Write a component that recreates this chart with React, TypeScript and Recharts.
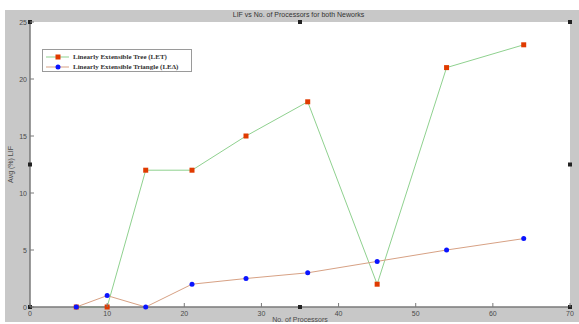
import React from "react";
import {
  LineChart,
  Line,
  XAxis,
  YAxis,
  CartesianGrid,
  Legend,
  ReferenceDot,
} from "recharts";

const PROCESSORS = [6, 10, 15, 21, 28, 36, 45, 54, 64];
const LET_VALUES = [0, 0, 12, 12, 15, 18, 2, 21, 23];
const LED_VALUES = [0, 1, 0, 2, 2.5, 3, 4, 5, 6];
const X_TICKS = [0, 10, 20, 30, 40, 50, 60, 70];
const Y_TICKS = [0, 5, 10, 15, 20, 25];
const HANDLES_X = [0, 35, 70];
const HANDLES_Y = [0, 12.5, 25];

const data = PROCESSORS.map((p, i) => ({
  p,
  let: LET_VALUES[i],
  led: LED_VALUES[i],
}));

const handles = HANDLES_X.flatMap((x) =>
  HANDLES_Y.filter((y) => !(x === 35 && y === 12.5)).map((y) => ({ x, y }))
);

const AXIS = "#7a7a7a";
const LABEL = "#4a4a4a";
const FONT = "'Liberation Sans', Arial, sans-serif";

const BottomTick = (props: any) => {
  const { x, y, payload } = props;
  return (
    <g>
      <line x1={x} y1={y} x2={x} y2={y - 4} stroke={AXIS} />
      <text x={x} y={y + 9} textAnchor="middle" fontSize={7} fontFamily={FONT} fill={LABEL}>
        {payload.value}
      </text>
    </g>
  );
};

const TopTick = (props: any) => {
  const { x, y } = props;
  return <line x1={x} y1={y} x2={x} y2={y + 4} stroke={AXIS} />;
};

const LeftTick = (props: any) => {
  const { x, y, payload } = props;
  return (
    <g>
      <line x1={x} y1={y} x2={x + 4} y2={y} stroke={AXIS} />
      <text x={x - 3} y={y + 2.5} textAnchor="end" fontSize={7} fontFamily={FONT} fill={LABEL}>
        {payload.value}
      </text>
    </g>
  );
};

const RightTick = (props: any) => {
  const { x, y } = props;
  return <line x1={x} y1={y} x2={x - 4} y2={y} stroke={AXIS} />;
};

const Handle = (props: any) => {
  const { cx, cy } = props;
  return <rect x={cx - 2} y={cy - 2} width={4} height={4} fill="#222" />;
};

const Square = (props: any) => {
  const { cx, cy } = props;
  return <rect x={cx - 2.5} y={cy - 2.5} width={5} height={5} fill="#e03a00" />;
};

const Dot = (props: any) => {
  const { cx, cy } = props;
  return <circle cx={cx} cy={cy} r={2.5} fill="#0a14ff" />;
};

const LegendBox = () => (
  <div
    style={{
      width: 150,
      height: 23,
      background: "#fff",
      border: "1px solid #9a9a9a",
      fontFamily: "'Liberation Serif', 'Times New Roman', serif",
      fontWeight: "bold",
      fontSize: 7,
      color: "#333",
      boxSizing: "border-box",
      paddingTop: 1.5,
    }}
  >
    {[
      { label: "Linearly Extensible Tree (LET)", line: "#8fd18f", marker: "square" },
      { label: "Linearly Extensible Triangle (LEΔ)", line: "#d7a184", marker: "circle" },
    ].map((e) => (
      <div key={e.label} style={{ display: "flex", alignItems: "center", height: 10 }}>
        <svg width={27} height={8} style={{ marginLeft: 2 }}>
          <line x1={1} y1={4} x2={24} y2={4} stroke={e.line} />
          {e.marker === "square" ? (
            <rect x={10.5} y={1.5} width={5} height={5} fill="#e03a00" />
          ) : (
            <circle cx={13} cy={4} r={2.5} fill="#0a14ff" />
          )}
        </svg>
        <span style={{ marginLeft: 1 }}>{e.label}</span>
      </div>
    ))}
  </div>
);

export default function App() {
  return (
    <div style={{ position: "absolute", left: 0, top: 0, width: 579, height: 324, background: "#fff" }}>
      <div
        style={{
          position: "absolute",
          left: 5,
          top: 10,
          width: 574,
          height: 312,
          background: "#c8c8c8",
        }}
      />
      <div
        style={{
          position: "absolute",
          left: 0,
          top: 11,
          width: 579,
          textAlign: "center",
          fontFamily: FONT,
          fontSize: 7,
          color: "#333",
          paddingLeft: 18,
          boxSizing: "border-box",
        }}
      >
        LIF vs No. of Processors for both Neworks
      </div>
      <div style={{ position: "absolute", left: 0, top: 0 }}>
        <LineChart
          width={579}
          height={324}
          data={data}
          margin={{ top: 22, right: 9, bottom: 0, left: 0 }}
        >
          <CartesianGrid horizontal={false} vertical={false} fill="#ffffff" />
          <XAxis
            dataKey="p"
            type="number"
            domain={[0, 70]}
            ticks={X_TICKS}
            height={17}
            tickSize={0}
            tickMargin={0}
            tickLine={false}
            axisLine={{ stroke: AXIS, strokeWidth: 1.5 }}
            tick={<BottomTick />}
            interval={0}
            label={{
              value: "No. of Processors",
              position: "insideBottom",
              offset: 2,
              fontSize: 7,
              fontFamily: FONT,
              fill: LABEL,
            }}
          />
          <XAxis
            xAxisId="top"
            orientation="top"
            dataKey="p"
            type="number"
            domain={[0, 70]}
            ticks={X_TICKS}
            height={0}
            tickSize={0}
            tickMargin={0}
            tickLine={false}
            axisLine={{ stroke: AXIS, strokeWidth: 1.5 }}
            tick={<TopTick />}
            interval={0}
          />
          <YAxis
            type="number"
            domain={[0, 25]}
            ticks={Y_TICKS}
            width={30}
            tickSize={0}
            tickMargin={0}
            tickLine={false}
            axisLine={{ stroke: AXIS, strokeWidth: 1.5 }}
            tick={<LeftTick />}
            interval={0}
            label={{
              value: "Avg (%) LIF",
              content: (p: any) => {
                const vb = p.viewBox || { x: 0, y: 22, width: 30, height: 285 };
                const cx = vb.x + 13;
                const cy = vb.y + vb.height / 2;
                return (
                  <text
                    x={cx}
                    y={cy}
                    transform={`rotate(-90, ${cx}, ${cy})`}
                    textAnchor="middle"
                    fontSize={7}
                    fontFamily={FONT}
                    fill={LABEL}
                  >
                    Avg (%) LIF
                  </text>
                );
              },
            }}
          />
          <YAxis
            yAxisId="right"
            orientation="right"
            type="number"
            domain={[0, 25]}
            ticks={Y_TICKS}
            width={0}
            tickSize={0}
            tickMargin={0}
            tickLine={false}
            axisLine={{ stroke: AXIS, strokeWidth: 1.5 }}
            tick={<RightTick />}
            interval={0}
          />
          <Legend
            layout="vertical"
            align="center"
            verticalAlign="middle"
            wrapperStyle={{ position: "absolute", left: 42, top: 49, width: 150 }}
            content={<LegendBox />}
          />
          <Line
            name="Linearly Extensible Tree (LET)"
            dataKey="let"
            stroke="#8fd18f"
            strokeWidth={1}
            dot={<Square />}
            activeDot={false}
            isAnimationActive={false}
          />
          <Line
            name="Linearly Extensible Triangle (LEΔ)"
            dataKey="led"
            stroke="#d7a184"
            strokeWidth={1}
            dot={<Dot />}
            activeDot={false}
            isAnimationActive={false}
          />
          {handles.map((h) => (
            <ReferenceDot
              key={`${h.x}-${h.y}`}
              x={h.x}
              y={h.y}
              r={2}
              ifOverflow="visible"
              shape={<Handle />}
            />
          ))}
        </LineChart>
      </div>
    </div>
  );
}
